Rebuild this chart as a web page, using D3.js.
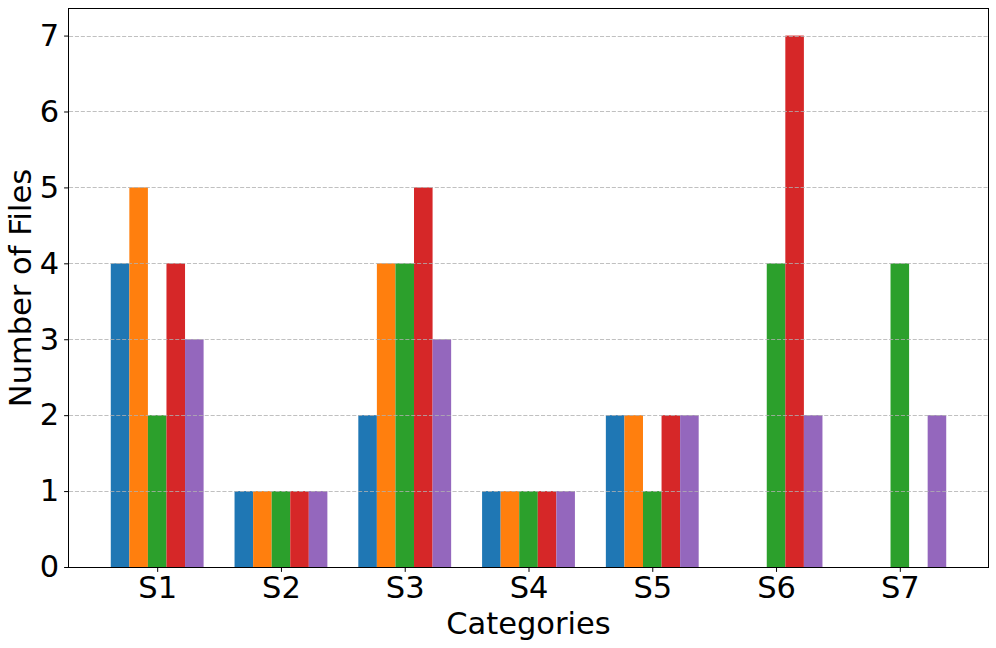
<!DOCTYPE html>
<html>
<head>
<meta charset="utf-8">
<script src="https://cdn.jsdelivr.net/npm/d3@7"></script>
<style>
  body { margin: 0; background: #fff; }
  text { font-family: "DejaVu Sans", sans-serif; fill: #000; }
</style>
</head>
<body>
<div id="chart"></div>
<script>
// categories and per-series values (5 series, no legend in original)
const categories = ['S1', 'S2', 'S3', 'S4', 'S5', 'S6', 'S7']
const series1 = [4, 1, 2, 1, 2, 0, 0]
const series2 = [5, 1, 4, 1, 2, 0, 0]
const series3 = [2, 1, 4, 1, 1, 4, 4]
const series4 = [4, 1, 5, 1, 2, 7, 0]
const series5 = [3, 1, 3, 1, 2, 2, 2]
const yTicks = [0, 1, 2, 3, 4, 5, 6, 7]

const allSeries = [series1, series2, series3, series4, series5]
const colors = ['#1f77b4', '#ff7f0e', '#2ca02c', '#d62728', '#9467bd']

const W = 996, H = 648
const m = { left: 69, right: 8, top: 9, bottom: 81 }
const barW = 0.15
const fontPx = '30.5px'

let svg = d3.select('#chart')
  .append('svg')
  .attr('width', W)
  .attr('height', H)

let xScale = d3.scaleLinear()
  .domain([-0.7125, categories.length - 1 + 0.7125])
  .range([m.left, W - m.right])

let yScale = d3.scaleLinear()
  .domain([0, 7.35])
  .range([H - m.bottom, m.top])

// bars
allSeries.forEach((vals, s) => {
  svg.append('g')
    .selectAll('rect')
    .data(vals)
    .enter()
    .append('rect')
    .attr('x', (d, i) => xScale(i + (s - 2) * barW - barW / 2))
    .attr('y', d => yScale(d))
    .attr('width', xScale(barW) - xScale(0))
    .attr('height', d => yScale(0) - yScale(d))
    .attr('fill', colors[s])
})

// dashed grid on top of bars
svg.append('g')
  .selectAll('line')
  .data(yTicks)
  .enter()
  .append('line')
  .attr('x1', m.left)
  .attr('x2', W - m.right)
  .attr('y1', d => Math.round(yScale(d)) + 0.5)
  .attr('y2', d => Math.round(yScale(d)) + 0.5)
  .attr('stroke', '#b0b0b0')
  .attr('stroke-opacity', 0.8)
  .attr('stroke-width', 1)
  .attr('stroke-dasharray', '4.1,1.8')

// axes
let xAxis = d3.axisBottom(xScale)
  .tickValues(d3.range(categories.length))
  .tickFormat(i => categories[i])
  .tickSize(4.9)
  .tickPadding(4.9)

let yAxis = d3.axisLeft(yScale)
  .tickValues(yTicks)
  .tickFormat(d3.format('d'))
  .tickSize(4.9)
  .tickPadding(4.9)

let gx = svg.append('g')
  .attr('transform', `translate(0, ${H - m.bottom})`)
  .call(xAxis)
let gy = svg.append('g')
  .attr('transform', `translate(${m.left}, 0)`)
  .call(yAxis)

;[gx, gy].forEach(g => {
  g.select('.domain').remove()
  g.selectAll('.tick line').attr('stroke', '#000').attr('stroke-width', 1)
  g.selectAll('.tick text')
    .style('font-family', '"DejaVu Sans", sans-serif')
    .style('font-size', fontPx)
    .attr('fill', '#000')
})

// frame
svg.append('rect')
  .attr('x', m.left - 0.5)
  .attr('y', m.top - 0.5)
  .attr('width', W - m.left - m.right + 1)
  .attr('height', H - m.top - m.bottom + 1)
  .attr('fill', 'none')
  .attr('stroke', '#000')
  .attr('stroke-width', 1)

// axis labels
svg.append('text')
  .attr('x', (m.left + W - m.right) / 2)
  .attr('y', 634)
  .attr('text-anchor', 'middle')
  .style('font-size', fontPx)
  .text('Categories')

svg.append('text')
  .attr('transform', `translate(31, ${(m.top + H - m.bottom) / 2}) rotate(-90)`)
  .attr('text-anchor', 'middle')
  .style('font-size', fontPx)
  .text('Number of Files')
</script>
</body>
</html>
